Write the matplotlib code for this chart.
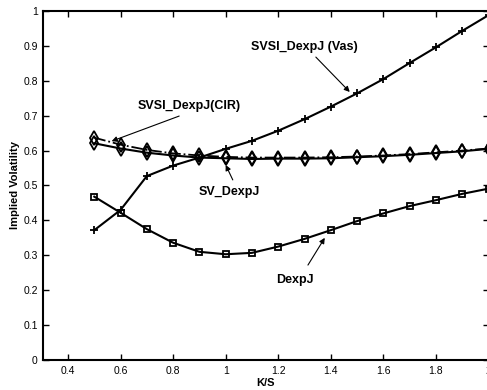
import matplotlib
matplotlib.use('Agg')
import matplotlib.pyplot as plt
from matplotlib.ticker import FuncFormatter

plt.rcParams['font.family'] = ['Liberation Sans', 'DejaVu Sans']

ks = [0.5, 0.6, 0.7, 0.8, 0.9, 1.0, 1.1, 1.2, 1.3, 1.4, 1.5, 1.6, 1.7, 1.8, 1.9, 2.0]
vas = [0.372, 0.43, 0.527, 0.557, 0.58, 0.605, 0.628, 0.657, 0.69, 0.726, 0.764,
       0.805, 0.851, 0.896, 0.943, 0.988]
cir = [0.637, 0.617, 0.602, 0.592, 0.586, 0.582, 0.580, 0.580, 0.580, 0.581, 0.583,
       0.586, 0.590, 0.595, 0.600, 0.606]
sv = [0.621, 0.606, 0.594, 0.586, 0.580, 0.578, 0.576, 0.577, 0.577, 0.578, 0.581,
      0.584, 0.588, 0.593, 0.598, 0.605]
dexpj = [0.468, 0.422, 0.375, 0.336, 0.310, 0.303, 0.307, 0.325, 0.347, 0.372, 0.398,
         0.420, 0.441, 0.458, 0.476, 0.491]

fig = plt.figure(figsize=(4.87, 3.9), dpi=100)
ax = fig.add_axes([43.3 / 487, 30 / 390, (488.5 - 43.3) / 487, 349 / 390])

ax.plot(ks, vas, color='black', lw=1.5, marker='+', ms=6, mew=1.3)
ax.plot(ks, cir, color='black', lw=1.3, ls='-.', marker='d', ms=7,
        mfc='none', mew=1.3)
ax.plot(ks, sv, color='black', lw=1.5, marker='d', ms=7, mfc='none', mew=1.3)
ax.plot(ks, dexpj, color='black', lw=1.5, marker='s', ms=5, mfc='none', mew=1.3)

arrow = dict(arrowstyle='-|>', color='black', lw=0.8, mutation_scale=8,
             shrinkA=0, shrinkB=0)
tfont = dict(fontsize=9, fontweight='bold', ha='center', va='center')
ax.text(0.862, 0.727, 'SVSI_DexpJ(CIR)', **tfont)
ax.annotate('', xy=(0.566, 0.627), xytext=(0.823, 0.699), arrowprops=arrow)
ax.text(1.015, 0.48, 'SV_DexpJ', **tfont)
ax.annotate('', xy=(1.0, 0.559), xytext=(1.027, 0.516), arrowprops=arrow)
ax.text(1.3, 0.897, 'SVSI_DexpJ (Vas)', **tfont)
ax.annotate('', xy=(1.472, 0.768), xytext=(1.343, 0.868), arrowprops=arrow)
ax.text(1.262, 0.23, 'DexpJ', **tfont)
ax.annotate('', xy=(1.377, 0.35), xytext=(1.313, 0.272), arrowprops=arrow)

ax.set_xlim(0.306, 2.0)
ax.set_ylim(0, 1)
ax.set_xticks([0.4, 0.6, 0.8, 1.0, 1.2, 1.4, 1.6, 1.8, 2.0])
ax.set_yticks([0, 0.1, 0.2, 0.3, 0.4, 0.5, 0.6, 0.7, 0.8, 0.9, 1.0])
fmt = FuncFormatter(lambda v, p: '%g' % round(v, 2))
ax.xaxis.set_major_formatter(fmt)
ax.yaxis.set_major_formatter(fmt)
ax.tick_params(direction='in', length=4, width=1, top=True, right=True,
               labelsize=7.5, pad=4)
for s in ax.spines.values():
    s.set_linewidth(1.5)

ax.set_xlabel('K/S', fontsize=8, fontweight='bold', labelpad=2)
ax.set_ylabel('Implied Volatility', fontsize=8, fontweight='bold', labelpad=2)

fig.savefig('out.png', dpi=100)
